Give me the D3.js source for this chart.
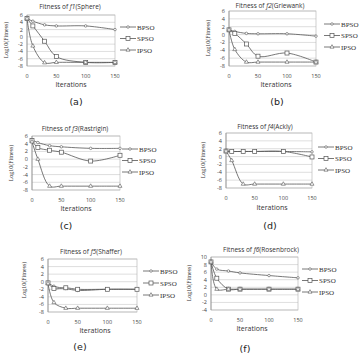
<!DOCTYPE html>
<html lang="en">
<head>
<meta charset="utf-8">
<title>Fitness curves</title>
<script src="https://d3js.org/d3.v7.min.js"></script>
<style>
  body { margin: 0; background: #fff; }
  svg { display: block; }
</style>
</head>
<body>
<script>
// data
var iterations = [0, 10, 30, 50, 100, 150];
var seriesNames = ["BPSO", "SPSO", "IPSO"];
var xTicks = [0, 50, 100, 150];
var yTicksA = [6, 4, 2, 0, -2, -4, -6, -8];
var yTicksF = [10, 8, 6, 4, 2, 0, -2, -4];

var sphereBPSO = [5, 4.3, 3.3, 3.0, 3.0, 2.0];
var sphereSPSO = [5, 3.0, -1.2, -5.4, -7.0, -7.0];
var sphereIPSO = [5, -2.5, -7.1, -7.0, -7.0, -7.0];

var griewBPSO = [1.2, 0.8, 0.3, 0.2, 0.2, -0.4];
var griewSPSO = [1.2, 0.3, -2.4, -5.5, -4.7, -7.0];
var griewIPSO = [1.2, -3.8, -7.0, -7.0, -7.0, -7.0];

var rastBPSO = [5, 4.3, 3.5, 3.2, 2.8, 2.8];
var rastSPSO = [4.8, 3.0, 2.3, 1.8, -0.5, 1.0];
var rastIPSO = [4.5, 0.0, -7.0, -7.0, -7.0, -7.0];

var ackBPSO = [1.4, 1.3, 1.3, 1.3, 1.3, 1.2];
var ackSPSO = [1.4, 1.3, 1.3, 1.3, 1.3, -0.1];
var ackIPSO = [1.4, -1.0, -7.0, -7.0, -7.0, -7.0];

var shafBPSO = [-0.3, -1.2, -1.8, -2.3, -2.0, -2.0];
var shafSPSO = [-0.3, -1.8, -1.6, -2.0, -2.0, -2.0];
var shafIPSO = [-0.5, -5.5, -7.0, -7.0, -7.0, -7.0];

var rosBPSO = [8.7, 6.8, 6.3, 5.8, 5.1, 4.5];
var rosSPSO = [8.7, 4.4, 1.5, 1.5, 1.5, 1.5];
var rosIPSO = [8.7, 1.5, 1.5, 1.5, 1.5, 1.5];

var panels = [
  { num: "1", name: "Sphere", tag: "(a)", series: [sphereBPSO, sphereSPSO, sphereIPSO], yTicks: yTicksA,
    box: [27, 115, 15, 66], title: [70, 6], tick: 76, xl: [71, 84], lab: [76, 101], leg: [120, 27, 11.5], yl: [6, 40] },
  { num: "2", name: "Griewank", tag: "(b)", series: [griewBPSO, griewSPSO, griewIPSO], yTicks: yTicksA,
    box: [229, 316, 11, 66], title: [270, 5], tick: 76, xl: [276, 84], lab: [277, 101], leg: [324, 24, 11.5], yl: [208, 38] },
  { num: "3", name: "Rastrigin", tag: "(c)", series: [rastBPSO, rastSPSO, rastIPSO], yTicks: yTicksA,
    box: [32, 120, 136, 190], title: [75, 128], tick: 200, xl: [76, 208], lab: [66, 225], leg: [122, 149, 11.5], yl: [11, 163] },
  { num: "4", name: "Ackly", tag: "(d)", series: [ackBPSO, ackSPSO, ackIPSO], yTicks: yTicksA,
    box: [226, 312, 133, 188], title: [265, 126], tick: 198, xl: [272, 207], lab: [270, 225], leg: [318, 147, 11.5], yl: [203, 160] },
  { num: "5", name: "Shaffer", tag: "(e)", series: [shafBPSO, shafSPSO, shafIPSO], yTicks: yTicksA,
    box: [48, 137, 259, 312], title: [91, 251], tick: 322, xl: [95, 330], lab: [80, 346], leg: [143, 271, 12], yl: [24, 280] },
  { num: "6", name: "Rosenbrock", tag: "(f)", series: [rosBPSO, rosSPSO, rosIPSO], yTicks: yTicksF,
    box: [211, 298, 257, 310], title: [261, 249], tick: 320, xl: [252, 328], lab: [245, 348], leg: [302, 269, 11.5], yl: [189, 283] }
];

var width = 363, height = 361;
var lineColor = "#555";

var svg = d3.select("body").append("svg")
    .attr("width", width)
    .attr("height", height);

function marker(g, type, x, y) {
  if (type === 0) {
    g.append("path").attr("d", d3.symbol().type(d3.symbolCircle).size(5)())
      .attr("transform", "translate(" + x + "," + y + ")")
      .attr("fill", "#fff").attr("stroke", lineColor).attr("stroke-width", 0.6);
  } else if (type === 1) {
    g.append("rect").attr("x", x - 2).attr("y", y - 2).attr("width", 4).attr("height", 4)
      .attr("fill", "#fff").attr("stroke", lineColor).attr("stroke-width", 0.7);
  } else {
    g.append("path").attr("d", d3.symbol().type(d3.symbolTriangle).size(7)())
      .attr("transform", "translate(" + x + "," + y + ")")
      .attr("fill", "#fff").attr("stroke", lineColor).attr("stroke-width", 0.6);
  }
}

panels.forEach(function(p) {
  var g = svg.append("g");
  var x = d3.scaleLinear().domain([0, 150]).range([p.box[0], p.box[1]]);
  var yDom = d3.extent(p.yTicks);
  var y = d3.scaleLinear().domain(yDom).range([p.box[3], p.box[2]]);

  // grid
  g.selectAll(".grid").data(p.yTicks).enter().append("line")
    .attr("x1", p.box[0]).attr("x2", p.box[1])
    .attr("y1", function(d) { return y(d); }).attr("y2", function(d) { return y(d); })
    .attr("stroke", "#c8c8c8").attr("stroke-width", 0.6);
  g.append("rect")
    .attr("x", p.box[0]).attr("y", p.box[2])
    .attr("width", p.box[1] - p.box[0]).attr("height", p.box[3] - p.box[2])
    .attr("fill", "none").attr("stroke", "#b0b0b0").attr("stroke-width", 0.6);
  g.append("line").attr("x1", p.box[0]).attr("x2", p.box[0])
    .attr("y1", p.box[2]).attr("y2", p.box[3]).attr("stroke", "#888").attr("stroke-width", 0.7);

  // tick labels
  g.selectAll(".yt").data(p.yTicks).enter().append("text")
    .attr("x", p.box[0] - 4).attr("y", function(d) { return y(d) + 2; })
    .attr("text-anchor", "end").attr("font-family", "Open Sans, sans-serif")
    .attr("font-size", 5.5).attr("fill", "#444").text(function(d) { return d; });
  g.selectAll(".xt").data(xTicks).enter().append("text")
    .attr("x", function(d) { return x(d); }).attr("y", p.tick + 2)
    .attr("text-anchor", "middle").attr("font-family", "Open Sans, sans-serif")
    .attr("font-size", 5.5).attr("fill", "#444").text(function(d) { return d; });

  // lines
  var line = d3.line()
    .x(function(d, i) { return x(iterations[i]); })
    .y(function(d) { return y(d); })
    .curve(d3.curveCatmullRom.alpha(0.5));
  p.series.forEach(function(s, k) {
    g.append("path").attr("d", line(s)).attr("fill", "none")
      .attr("stroke", lineColor).attr("stroke-width", 0.8);
  });
  p.series.forEach(function(s, k) {
    s.forEach(function(v, i) { marker(g, k, x(iterations[i]), y(v)); });
  });

  // title
  var t = g.append("text").attr("x", p.title[0]).attr("y", p.title[1] + 2.5)
    .attr("text-anchor", "middle").attr("font-family", "Open Sans, sans-serif")
    .attr("font-size", 6.5).attr("fill", "#333");
  t.append("tspan").text("Fitness of ");
  t.append("tspan").attr("font-style", "italic").text("f" + p.num);
  t.append("tspan").text("(" + p.name + ")");

  // axis titles
  g.append("text").attr("x", p.xl[0]).attr("y", p.xl[1] + 2.5)
    .attr("text-anchor", "middle").attr("font-family", "Open Sans, sans-serif")
    .attr("font-size", 7).attr("fill", "#333").text("Iterations");
  g.append("text")
    .attr("transform", "translate(" + (p.yl[0] + 2) + "," + p.yl[1] + ") rotate(-90)")
    .attr("text-anchor", "middle").attr("font-family", "Liberation Serif, serif")
    .attr("font-size", 6).attr("fill", "#333").text("Log10(Fitness)");

  // legend
  seriesNames.forEach(function(n, k) {
    var ly = p.leg[1] + k * p.leg[2];
    g.append("line").attr("x1", p.leg[0]).attr("x2", p.leg[0] + 16)
      .attr("y1", ly).attr("y2", ly).attr("stroke", lineColor).attr("stroke-width", 0.8);
    marker(g, k, p.leg[0] + 8, ly);
    g.append("text").attr("x", p.leg[0] + 17).attr("y", ly + 2.5)
      .attr("font-family", "Liberation Serif, serif").attr("font-size", 7)
      .attr("fill", "#333").text(n);
  });

  // panel tag
  g.append("text").attr("x", p.lab[0]).attr("y", p.lab[1] + 3.5)
    .attr("text-anchor", "middle").attr("font-family", "DejaVu Sans, sans-serif")
    .attr("font-size", 9.5).attr("fill", "#222").text(p.tag);
});
</script>
</body>
</html>
